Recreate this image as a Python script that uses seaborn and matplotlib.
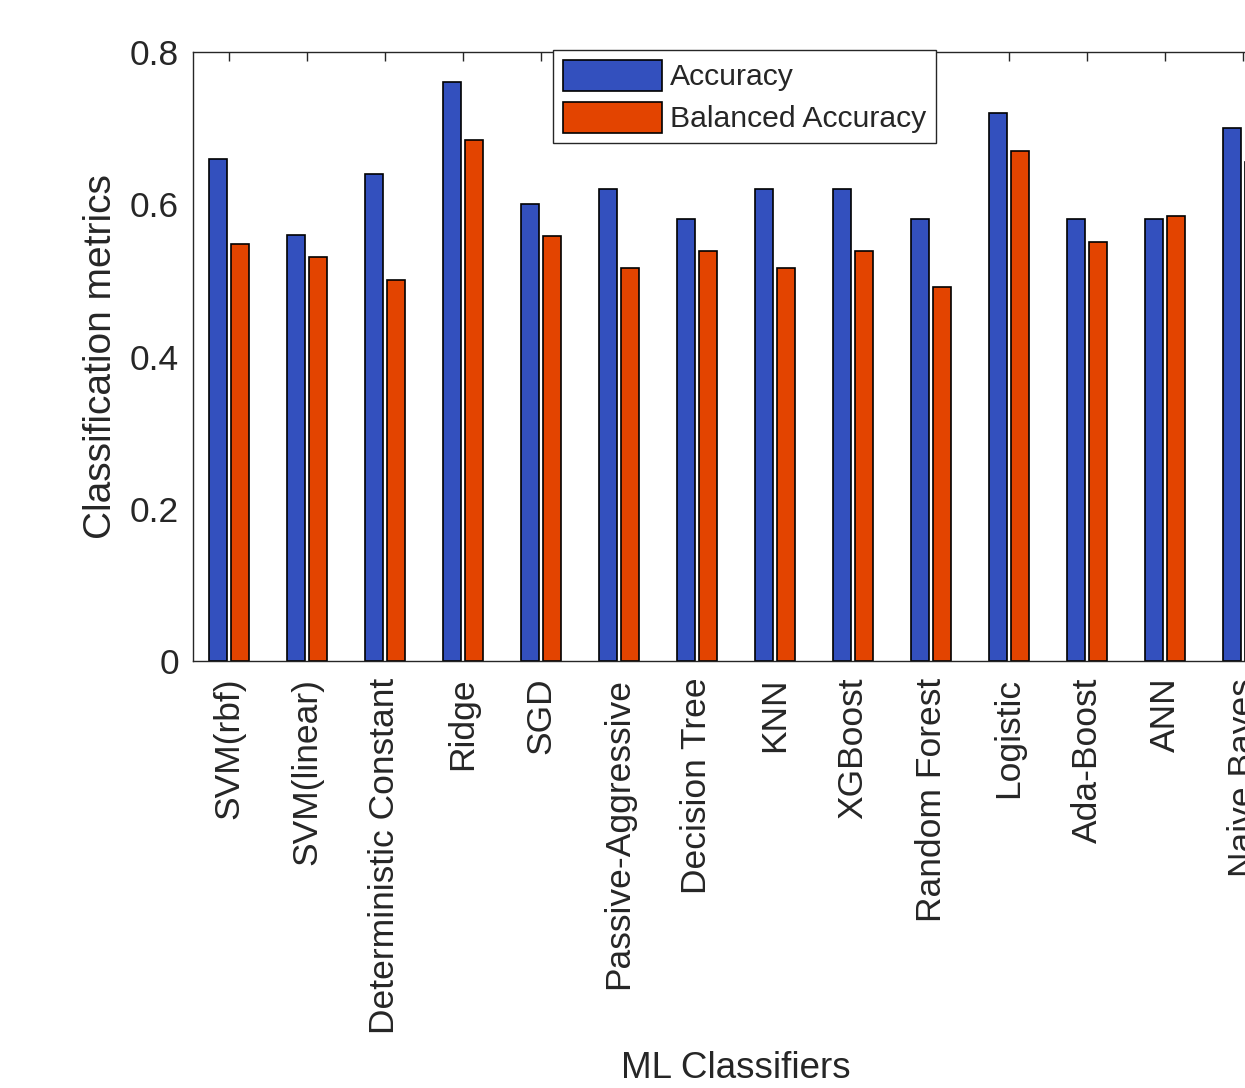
import pandas as pd
import matplotlib.pyplot as plt
import seaborn as sns

# values
classifiers = ['SVM(rbf)', 'SVM(linear)', 'Deterministic Constant', 'Ridge', 'SGD',
               'Passive-Aggressive', 'Decision Tree', 'KNN', 'XGBoost', 'Random Forest',
               'Logistic', 'Ada-Boost', 'ANN', 'Naive Bayes']
accuracy = [0.66, 0.56, 0.64, 0.76, 0.60, 0.62, 0.58, 0.62, 0.62, 0.58, 0.72, 0.58, 0.58, 0.70]
balanced_accuracy = [0.548, 0.531, 0.50, 0.684, 0.558, 0.516, 0.539, 0.516, 0.539, 0.491,
                     0.670, 0.550, 0.584, 0.655]
series_names = ['Accuracy', 'Balanced Accuracy']
colors = ['#3350BE', '#E34400']
y_ticks = [0, 0.2, 0.4, 0.6, 0.8]
y_ticklabels = ['0', '0.2', '0.4', '0.6', '0.8']

df = pd.DataFrame({
    'classifier': classifiers * 2,
    'value': accuracy + balanced_accuracy,
    'metric': [series_names[0]] * len(classifiers) + [series_names[1]] * len(classifiers),
})

sns.set_style('white')
plt.rcParams['font.family'] = ['Liberation Sans', 'DejaVu Sans']
text_col = '#262626'

W, H = 1245, 1088
fig = plt.figure(figsize=(W / 100, H / 100), dpi=100)
# axes runs past the right edge of the figure, as in the cropped reference
ax = fig.add_axes([193 / W, 1 - 661 / H, (1279 - 193) / W, (661 - 52) / H])

sns.barplot(data=df, x='classifier', y='value', hue='metric', palette=colors,
            saturation=1, width=0.56, gap=0.18, edgecolor='black', linewidth=1.2, ax=ax)

ax.set_xlim(-0.46, len(classifiers) - 0.54)
ax.set_ylim(0, 0.8)
ax.set_yticks(y_ticks)
ax.set_yticklabels(y_ticklabels)

ax.tick_params(axis='both', direction='in', length=6.5, width=1, color=text_col,
               labelcolor=text_col, labelsize=25.5, top=True, right=True)
ax.tick_params(axis='x', rotation=90, pad=12)
ax.tick_params(axis='y', pad=10)
for sp in ax.spines.values():
    sp.set_color(text_col)
    sp.set_linewidth(1.0)

ax.set_xlabel('ML Classifiers', fontsize=26.5, color=text_col, labelpad=12)
ax.set_ylabel('Classification metrics', fontsize=28, color=text_col, labelpad=8)

handles, labels = ax.get_legend_handles_labels()
leg = ax.legend(handles, labels, loc='upper left', bbox_to_anchor=(553 / W, 1 - 50 / H),
                bbox_transform=fig.transFigure, fontsize=21.7, frameon=True, fancybox=False,
                edgecolor=text_col, framealpha=1, handlelength=3.3, handleheight=1.2,
                borderaxespad=0, borderpad=0.32, labelspacing=0.35, handletextpad=0.27)
leg.get_frame().set_linewidth(1.0)
for t in leg.get_texts():
    t.set_color(text_col)
for h in leg.legend_handles:
    h.set_edgecolor('black')
    h.set_linewidth(1.2)

fig.savefig('out.png', dpi=100)
